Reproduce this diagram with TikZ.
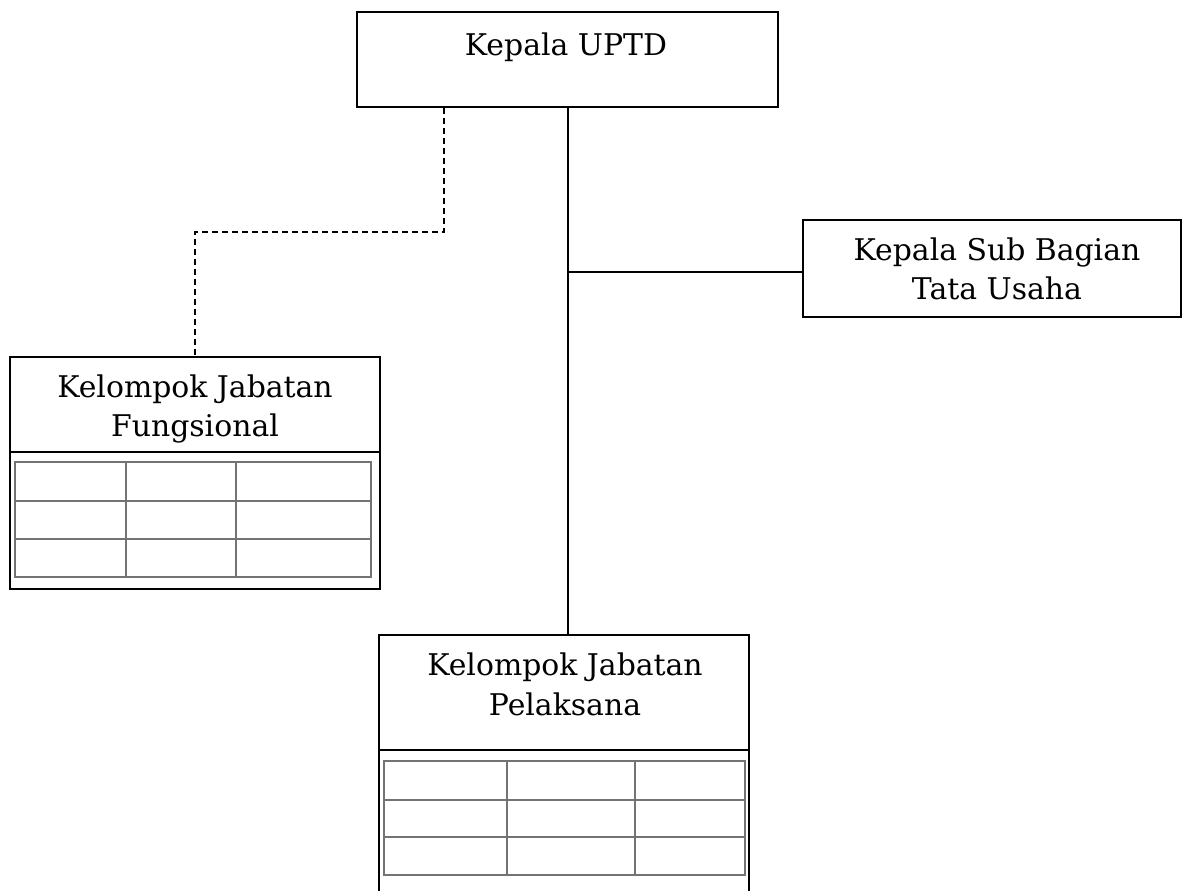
\documentclass[tikz,border=0pt]{standalone}
\usepackage{fontspec}
\setmainfont{DejaVu Serif}
\usetikzlibrary{fit}
\begin{document}
\begin{tikzpicture}[x=0.75pt,y=-0.75pt,
  box/.style={draw, line width=1.2pt, inner sep=0pt},
  lbl/.style={font=\fontsize{22.4}{29.5}\selectfont, align=center, anchor=base, inner sep=0pt},
  conn/.style={line width=1.5pt},
  dconn/.style={line width=1.4pt, dash pattern=on 4.5pt off 3pt},
  tbl/.style={draw=black!55, line width=1.3pt}]
\useasboundingbox (0,0) rectangle (1183,891);
\clip (0,0) rectangle (1183,891);
% boxes
\node[box, fit={(357,12) (778,107)}] (uptd) {};
\node[box, fit={(803,220) (1181,317)}] (sub) {};
\node[box, fit={(10,357) (380,589)}] (fun) {};
\node[box, fit={(379,635) (749,905)}] (pel) {};
% texts (anchor base = last line baseline)
\node[lbl] (tuptd) at (566,56) {Kepala UPTD};
\node[lbl] (tsub) at (997,300) {Kepala Sub Bagian\\Tata Usaha};
\node[lbl] (tfun) at (195,437) {Kelompok Jabatan\\Fungsional};
\node[lbl] (tpel) at (565,715) {Kelompok Jabatan\\Pelaksana};
% header dividers
\draw[conn] (fun.west |- 0,452) -- (fun.east |- 0,452);
\draw[conn] (pel.west |- 0,750) -- (pel.east |- 0,750);
% tables
\draw[tbl] (15,462) rectangle (371,577);
\draw[tbl] (15,501) -- (371,501) (15,539) -- (371,539) (126,462) -- (126,577) (236,462) -- (236,577);
\draw[tbl] (384,761) rectangle (745,875);
\draw[tbl] (384,800) -- (745,800) (384,837) -- (745,837) (507,761) -- (507,875) (635,761) -- (635,875);
% connectors
\draw[conn] (uptd.south) -- (uptd.south |- pel.north);
\draw[conn] ([yshift=-2.5pt]uptd.south |- sub.west) -- ([yshift=-2.5pt]sub.west);
\path (uptd.south west) ++(88,0) coordinate (d0);
\draw[dconn] (d0) -- ++(0,124) -| (fun.north);
\end{tikzpicture}
\end{document}
